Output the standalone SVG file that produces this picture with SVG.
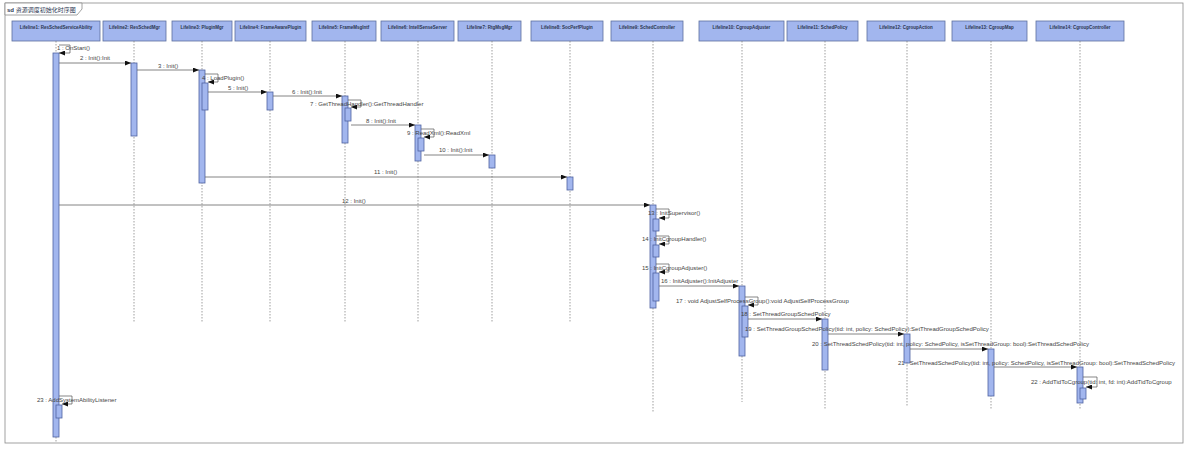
<svg xmlns="http://www.w3.org/2000/svg" width="1200" height="462" viewBox="0 0 1200 462">
<defs>
<marker id="ah" markerWidth="6" markerHeight="5" refX="6" refY="2.5" orient="auto" markerUnits="userSpaceOnUse"><path d="M0,0 L6,2.5 L0,5 Z" fill="#111"/></marker>
<style>
.box{fill:#a2b6ee;stroke:#5d6f9e;stroke-width:0.8}
.hd{font-family:"Liberation Sans",Arial,sans-serif;font-size:4.5px;font-weight:bold;fill:#2a3550;text-anchor:middle}
.ll{stroke:#777;stroke-width:0.7;stroke-dasharray:1.5,1.5;fill:none}
.act{fill:#a2b6ee;stroke:#4f62a0;stroke-width:0.8}
.msg{stroke:#666;stroke-width:0.8;fill:none;marker-end:url(#ah)}
.loop{stroke:#555;stroke-width:0.7;fill:none;marker-end:url(#ah)}
.lb{font-family:"Liberation Sans",Arial,sans-serif;font-size:6px;fill:#444}
</style>
</defs>
<rect width="1200" height="462" fill="#fff"/>
<rect x="5" y="3" width="1178" height="440" fill="none" stroke="#8a8a8a" stroke-width="0.8"/>
<path d="M5,3 H82 V9 L77,15 H5 Z" fill="#fff" stroke="#8a8a8a" stroke-width="0.8"/>
<text x="7" y="11.5" font-family="'Liberation Sans','Noto Sans CJK SC',sans-serif" font-size="6px" fill="#2a3550"><tspan font-weight="bold">sd</tspan> 资源调度初始化时序图</text>

<g id="lifeline1"><rect class="box" x="12" y="21" width="88" height="20"/><text class="hd" x="56" y="29">Lifeline1: ResSchedServiceAbility</text><line class="ll" x1="56" y1="41" x2="56" y2="443"/><rect class="act" x="53" y="53" width="6" height="384"/><rect class="act" x="56" y="405" width="6" height="13"/></g>
<g id="lifeline2"><rect class="box" x="103" y="21" width="63" height="20"/><text class="hd" x="134.5" y="29">Lifeline2: ResSchedMgr</text><line class="ll" x1="134" y1="41" x2="134" y2="322"/><rect class="act" x="131" y="63" width="6" height="73"/></g>
<g id="lifeline3"><rect class="box" x="172" y="21" width="60" height="20"/><text class="hd" x="202" y="29">Lifeline3: PluginMgr</text><line class="ll" x1="202" y1="41" x2="202" y2="322"/><rect class="act" x="199" y="70" width="6" height="113"/><rect class="act" x="202" y="83" width="6" height="27"/></g>
<g id="lifeline4"><rect class="box" x="235" y="21" width="71" height="20"/><text class="hd" x="270.5" y="29">Lifeline4: FrameAwarePlugin</text><line class="ll" x1="270" y1="41" x2="270" y2="322"/><rect class="act" x="267" y="92" width="6" height="18"/></g>
<g id="lifeline5"><rect class="box" x="312" y="21" width="64" height="20"/><text class="hd" x="344" y="29">Lifeline5: FrameMsgIntf</text><line class="ll" x1="345" y1="41" x2="345" y2="322"/><rect class="act" x="342" y="96" width="6" height="47"/><rect class="act" x="345" y="108" width="6" height="13"/></g>
<g id="lifeline6"><rect class="box" x="381" y="21" width="73" height="20"/><text class="hd" x="417.5" y="29">Lifeline6: IntellSenseServer</text><line class="ll" x1="418" y1="41" x2="418" y2="322"/><rect class="act" x="415" y="125" width="6" height="36"/><rect class="act" x="418" y="138" width="6" height="13"/></g>
<g id="lifeline7"><rect class="box" x="458" y="21" width="63" height="20"/><text class="hd" x="489.5" y="29">Lifeline7: RtgMsgMgr</text><line class="ll" x1="492" y1="41" x2="492" y2="322"/><rect class="act" x="489" y="155" width="6" height="13"/></g>
<g id="lifeline8"><rect class="box" x="531" y="21" width="72" height="20"/><text class="hd" x="567" y="29">Lifeline8: SocPerfPlugin</text><line class="ll" x1="570" y1="41" x2="570" y2="322"/><rect class="act" x="567" y="177" width="6" height="13"/></g>
<g id="lifeline9"><rect class="box" x="611" y="21" width="72" height="20"/><text class="hd" x="647" y="29">Lifeline9: SchedController</text><line class="ll" x1="653" y1="41" x2="653" y2="413"/><rect class="act" x="650" y="205" width="6" height="103"/><rect class="act" x="653" y="219" width="6" height="12"/><rect class="act" x="653" y="245" width="6" height="12"/><rect class="act" x="653" y="273" width="6" height="28"/></g>
<g id="lifeline10"><rect class="box" x="699" y="21" width="85" height="20"/><text class="hd" x="741.5" y="29">Lifeline10: CgroupAdjuster</text><line class="ll" x1="742" y1="41" x2="742" y2="402"/><rect class="act" x="739" y="286" width="6" height="70"/><rect class="act" x="742" y="306" width="6" height="31"/></g>
<g id="lifeline11"><rect class="box" x="787" y="21" width="71" height="20"/><text class="hd" x="822.5" y="29">Lifeline11: SchedPolicy</text><line class="ll" x1="825" y1="41" x2="825" y2="410"/><rect class="act" x="822" y="319" width="6" height="51"/></g>
<g id="lifeline12"><rect class="box" x="867" y="21" width="78" height="20"/><text class="hd" x="906" y="29">Lifeline12: CgroupAction</text><line class="ll" x1="907" y1="41" x2="907" y2="407"/><rect class="act" x="904" y="334" width="6" height="29"/></g>
<g id="lifeline13"><rect class="box" x="952" y="21" width="75" height="20"/><text class="hd" x="989.5" y="29">Lifeline13: CgroupMap</text><line class="ll" x1="991" y1="41" x2="991" y2="410"/><rect class="act" x="988" y="349" width="6" height="47"/></g>
<g id="lifeline14"><rect class="box" x="1036" y="21" width="88" height="20"/><text class="hd" x="1080" y="29">Lifeline14: CgroupController</text><line class="ll" x1="1080" y1="41" x2="1080" y2="410"/><rect class="act" x="1077" y="367" width="6" height="36"/><rect class="act" x="1080" y="388" width="6" height="11"/></g>

<g id="connectors">
<path class="loop" d="M59,45 H70 V53 H59"/>
<line class="msg" x1="59" y1="63" x2="131" y2="63"/>
<line class="msg" x1="137" y1="70" x2="199" y2="70"/>
<path class="loop" d="M205,74 H218 V82 H208"/>
<line class="msg" x1="208" y1="92" x2="267" y2="92"/>
<line class="msg" x1="273" y1="96" x2="342" y2="96"/>
<path class="loop" d="M348,100 H361 V107 H351"/>
<line class="msg" x1="351" y1="125" x2="415" y2="125"/>
<path class="loop" d="M421,129 H434 V137 H424"/>
<line class="msg" x1="424" y1="155" x2="489" y2="155"/>
<line class="msg" x1="205" y1="177" x2="567" y2="177"/>
<line class="msg" x1="59" y1="205" x2="650" y2="205"/>
<path class="loop" d="M656,209 H669 V218 H659"/>
<path class="loop" d="M656,236 H669 V244 H659"/>
<path class="loop" d="M656,264 H669 V272 H659"/>
<line class="msg" x1="659" y1="286" x2="739" y2="286"/>
<path class="loop" d="M745,297 H758 V305 H748"/>
<line class="msg" x1="748" y1="319" x2="822" y2="319"/>
<line class="msg" x1="828" y1="334" x2="904" y2="334"/>
<line class="msg" x1="910" y1="349" x2="988" y2="349"/>
<line class="msg" x1="994" y1="367" x2="1077" y2="367"/>
<path class="loop" d="M1083,377 H1097 V387 H1086"/>
<path class="loop" d="M59,396 H72 V404 H62"/>
</g>

<g id="labels">
<text class="lb" x="57" y="50">1 : OnStart()</text>
<text class="lb" x="80" y="60">2 : Init():Init</text>
<text class="lb" x="158" y="68">3 : Init()</text>
<text class="lb" x="202" y="80">4 : LoadPlugin()</text>
<text class="lb" x="228" y="90">5 : Init()</text>
<text class="lb" x="292" y="94">6 : Init():Init</text>
<text class="lb" x="310" y="106">7 : GetThreadHandler():GetThreadHandler</text>
<text class="lb" x="366" y="123">8 : Init():Init</text>
<text class="lb" x="407" y="135">9 : ReadXml():ReadXml</text>
<text class="lb" x="439" y="152">10 : Init():Init</text>
<text class="lb" x="374" y="174">11 : Init()</text>
<text class="lb" x="342" y="203">12 : Init()</text>
<text class="lb" x="648" y="215">13 : InitSupervisor()</text>
<text class="lb" x="642" y="241">14 : InitCgroupHandler()</text>
<text class="lb" x="642" y="270">15 : InitCgroupAdjuster()</text>
<text class="lb" x="661" y="283">16 : InitAdjuster():InitAdjuster</text>
<text class="lb" x="676" y="303">17 : void AdjustSelfProcessGroup():void AdjustSelfProcessGroup</text>
<text class="lb" x="741" y="316">18 : SetThreadGroupSchedPolicy</text>
<text class="lb" x="745" y="331">19 : SetThreadGroupSchedPolicy(tid: int, policy: SchedPolicy):SetThreadGroupSchedPolicy</text>
<text class="lb" x="812" y="346">20 : SetThreadSchedPolicy(tid: int, policy: SchedPolicy, isSetThreadGroup: bool):SetThreadSchedPolicy</text>
<text class="lb" x="898" y="365">21 : SetThreadSchedPolicy(tid: int, policy: SchedPolicy, isSetThreadGroup: bool):SetThreadSchedPolicy</text>
<text class="lb" x="1031" y="384">22 : AddTidToCgroup(tid: int, fd: int):AddTidToCgroup</text>
<text class="lb" x="37" y="402">23 : AddSystemAbilityListener</text>
</g>
</svg>
